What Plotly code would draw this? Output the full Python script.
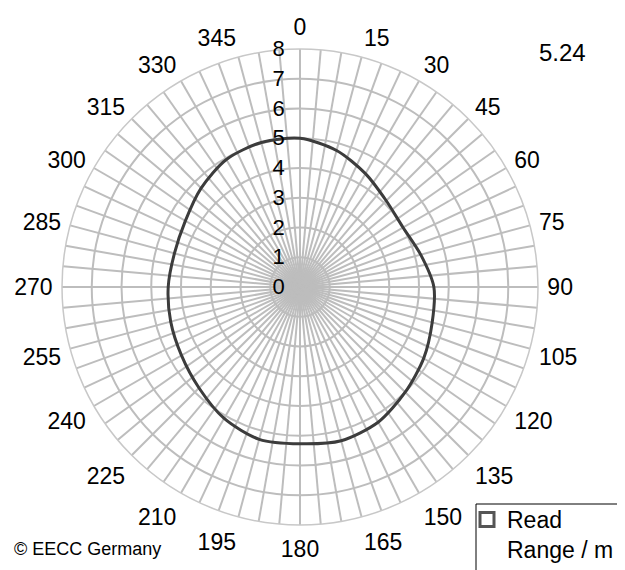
import plotly.graph_objects as go

angles = [0, 15, 30, 45, 60, 75, 90, 105, 120, 135, 150, 165,
          180, 195, 210, 225, 240, 255, 270, 285, 300, 315, 330, 345, 360]
read_range = [5.0, 4.75, 4.4, 4.1, 4.0, 4.2, 4.5, 4.6, 4.8, 5.0, 5.25, 5.35,
              5.27, 5.3, 5.1, 4.8, 4.6, 4.5, 4.43, 4.37, 4.45, 4.7, 4.95, 5.03, 5.0]
grid_angles = list(range(0, 360, 5))
angle_labels = [str(a) if a % 15 == 0 else "" for a in grid_angles]
radial_ticks = [0, 1, 2, 3, 4, 5, 6, 7, 8]
max_label = "5.24"
series_name = "Read<br>Range / m"
credit = "© EECC Germany"

font = "Liberation Sans, Arial, sans-serif"
W, H = 625, 570
OFF = 8  # browser body margin
cx, cy, R = 300 - OFF, 287 - OFF, 238

fig = go.Figure()
fig.add_trace(go.Scatterpolar(
    r=read_range, theta=angles, mode="lines",
    line=dict(color="#3c3c3c", width=3, shape="spline", smoothing=0.8),
    showlegend=False,
))
fig.add_trace(go.Scatterpolar(
    r=[None], theta=[None], mode="markers", name=series_name,
    marker=dict(symbol="square-open", size=14, color="#555555",
                line=dict(width=3, color="#555555")),
))

fig.update_layout(
    width=W, height=H,
    margin=dict(l=0, r=0, t=0, b=0, autoexpand=False),
    paper_bgcolor="white",
    font=dict(family=font, size=22, color="black"),
    polar=dict(
        domain=dict(x=[(cx - R) / W, (cx + R) / W],
                    y=[(H - cy - R) / H, (H - cy + R) / H]),
        bgcolor="white",
        angularaxis=dict(
            rotation=90, direction="clockwise",
            tickmode="array", tickvals=grid_angles, ticktext=angle_labels,
            gridcolor="#bdbdbd", gridwidth=1.5,
            linecolor="#c8c8c8", linewidth=1.5,
            ticks="outside", ticklen=4, tickcolor="rgba(0,0,0,0)",
            tickfont=dict(size=23, family=font),
        ),
        radialaxis=dict(
            range=[0, 8], tickmode="array", tickvals=radial_ticks,
            angle=90, side="counterclockwise", tickangle=90,
            gridcolor="#bdbdbd", gridwidth=1.5,
            showline=False, ticks="outside", ticklen=7, tickcolor="rgba(0,0,0,0)",
            tickfont=dict(size=22, family=font),
        ),
    ),
    legend=dict(
        x=(476 - 9 - OFF) / W, y=1 - (498 - OFF) / H, xanchor="left", yanchor="top",
        borderwidth=0, bgcolor="rgba(0,0,0,0)",
        font=dict(size=23, family=font), valign="top",
        itemwidth=30, tracegroupgap=0,
    ),
    shapes=[dict(type="rect", xref="paper", yref="paper",
                 x0=(476 - OFF) / W, x1=(640 - OFF) / W,
                 y0=1 - (590 - OFF) / H, y1=1 - (504 - OFF) / H,
                 line=dict(color="black", width=1), fillcolor="rgba(0,0,0,0)")],
)
fig.add_annotation(text=max_label, x=(562 - OFF) / W, y=1 - (52 - OFF) / H,
                   xref="paper", yref="paper", xanchor="center", yanchor="middle",
                   showarrow=False, font=dict(size=24, family=font))
fig.add_annotation(text=credit, x=(12 - OFF) / W, y=1 - (549 - OFF) / H,
                   xref="paper", yref="paper", xanchor="left", yanchor="middle",
                   showarrow=False, font=dict(size=18, family=font))

fig.write_html("out.html")
